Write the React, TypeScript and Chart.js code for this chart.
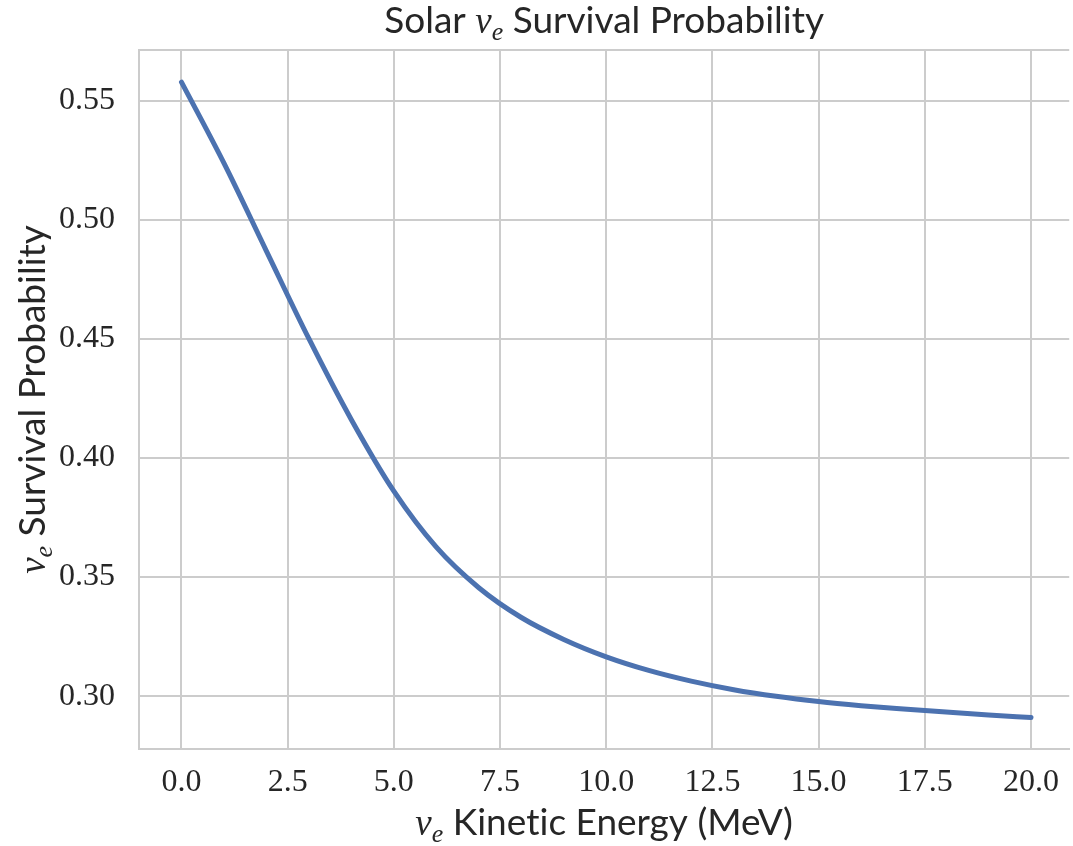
import React, { useEffect, useRef } from 'react';
import { Chart, registerables } from 'chart.js';

Chart.register(...registerables);

// ---- data ----
const energyMeV = [0, 1, 2, 3, 4, 5, 6, 7, 8, 9, 10, 11, 12, 13, 14, 15, 16, 17, 18, 19, 20];
const survivalProb = [0.5577, 0.5237, 0.4868, 0.4500, 0.4160, 0.3860, 0.3625, 0.3455, 0.3330, 0.3238, 0.3165, 0.3108, 0.3063, 0.3027, 0.2999, 0.2977, 0.2960, 0.2946, 0.2933, 0.2921, 0.2910];
const xTickValues = [0, 2.5, 5, 7.5, 10, 12.5, 15, 17.5, 20];
const yTickValues = [0.30, 0.35, 0.40, 0.45, 0.50, 0.55];

const SANS = "Lato";
const SERIF = "'Liberation Serif'";
const TEXT = '#262626';
const GRID = '#cccccc';

type Seg = { t: string; font: string; dy: number };

function nuSegs(size: number): Seg[] {
  return [
    { t: 'ν', font: `italic ${size}px ${SERIF}`, dy: 0 },
    { t: 'e', font: `italic ${Math.round(size * 0.7)}px ${SERIF}`, dy: size * 0.2 },
  ];
}

function drawRich(ctx: CanvasRenderingContext2D, segs: Seg[], cx: number, baseline: number) {
  let total = 0;
  const widths = segs.map((s) => {
    ctx.font = s.font;
    const w = ctx.measureText(s.t).width;
    total += w;
    return w;
  });
  let x = cx - total / 2;
  ctx.textAlign = 'left';
  ctx.textBaseline = 'alphabetic';
  segs.forEach((s, i) => {
    ctx.font = s.font;
    ctx.fillText(s.t, x, baseline + s.dy);
    x += widths[i];
  });
}

const textPlugin = {
  id: 'richText',
  beforeDatasetsDraw(chart: any) {
    const { ctx, chartArea } = chart;
    ctx.save();
    ctx.strokeStyle = GRID;
    ctx.lineWidth = 2;
    ctx.beginPath();
    ctx.moveTo(chartArea.left - 1, chartArea.top);
    ctx.lineTo(chartArea.right, chartArea.top);
    ctx.stroke();
    ctx.restore();
  },
  afterDraw(chart: any) {
    const { ctx, chartArea } = chart;
    const size = 37;
    const sans = `${size}px ${SANS}`;
    ctx.save();
    ctx.fillStyle = TEXT;
    const cx = (chartArea.left + chartArea.right) / 2;
    // title
    drawRich(ctx, [{ t: 'Solar ', font: sans, dy: 0 }, ...nuSegs(size), { t: ' Survival Probability', font: sans, dy: 0 }], cx, 33);
    // x label (split to avoid the "ti" ligature)
    drawRich(
      ctx,
      [...nuSegs(size), { t: ' Kine', font: sans, dy: 0 }, { t: 't', font: sans, dy: 0 }, { t: 'ic Energy (MeV)', font: sans, dy: 0 }],
      cx,
      835
    );
    // y label
    ctx.save();
    ctx.translate(45, (chartArea.top + chartArea.bottom) / 2);
    ctx.rotate(-Math.PI / 2);
    drawRich(ctx, [...nuSegs(size), { t: ' Survival Probability', font: sans, dy: 0 }], 0, 0);
    ctx.restore();
    ctx.restore();
  },
};

export default function App() {
  const ref = useRef<HTMLCanvasElement>(null);
  useEffect(() => {
    document.body.style.margin = '0';
    const canvas = ref.current!;
    const chart = new Chart(canvas, {
      type: 'line',
      data: {
        datasets: [
          {
            data: energyMeV.map((e, i) => ({ x: e, y: survivalProb[i] })),
            borderColor: '#4c72b0',
            borderWidth: 5,
            pointRadius: 0,
            cubicInterpolationMode: 'monotone',
            fill: false,
            borderCapStyle: 'round',
          },
        ],
      },
      options: {
        animation: false,
        responsive: false,
        devicePixelRatio: 1,
        layout: { padding: { top: 50, left: 0, right: 0, bottom: 0 } },
        plugins: { legend: { display: false }, title: { display: false }, tooltip: { enabled: false } },
        scales: {
          x: {
            type: 'linear',
            min: -1,
            max: 20.9,
            grid: { color: GRID, lineWidth: 2, drawTicks: false },
            border: { display: true, color: GRID, width: 2 },
            ticks: {
              color: TEXT,
              font: { family: SERIF, size: 32 },
              padding: 14,
              callback: (v: any) => Number(v).toFixed(1),
            },
            afterBuildTicks: (s: any) => {
              s.ticks = xTickValues.map((v) => ({ value: v }));
            },
            afterFit: (s: any) => {
              s.height = 97;
            },
          },
          y: {
            type: 'linear',
            min: 0.2778,
            max: 0.5712,
            grid: { color: GRID, lineWidth: 2, drawTicks: false },
            border: { display: true, color: GRID, width: 2 },
            ticks: {
              color: TEXT,
              font: { family: SERIF, size: 32 },
              padding: 24,
              callback: (v: any) => Number(v).toFixed(2),
            },
            afterBuildTicks: (s: any) => {
              s.ticks = yTickValues.map((v) => ({ value: v }));
            },
            afterFit: (s: any) => {
              s.width = 139;
            },
          },
        },
      },
      plugins: [textPlugin],
    } as any);
    return () => chart.destroy();
  }, []);
  return (
    <div style={{ position: 'absolute', left: 0, top: 0, width: 1073, height: 846, overflow: 'hidden', background: '#fff' }}>
      <canvas ref={ref} width={1073} height={846} style={{ display: 'block' }} />
    </div>
  );
}
